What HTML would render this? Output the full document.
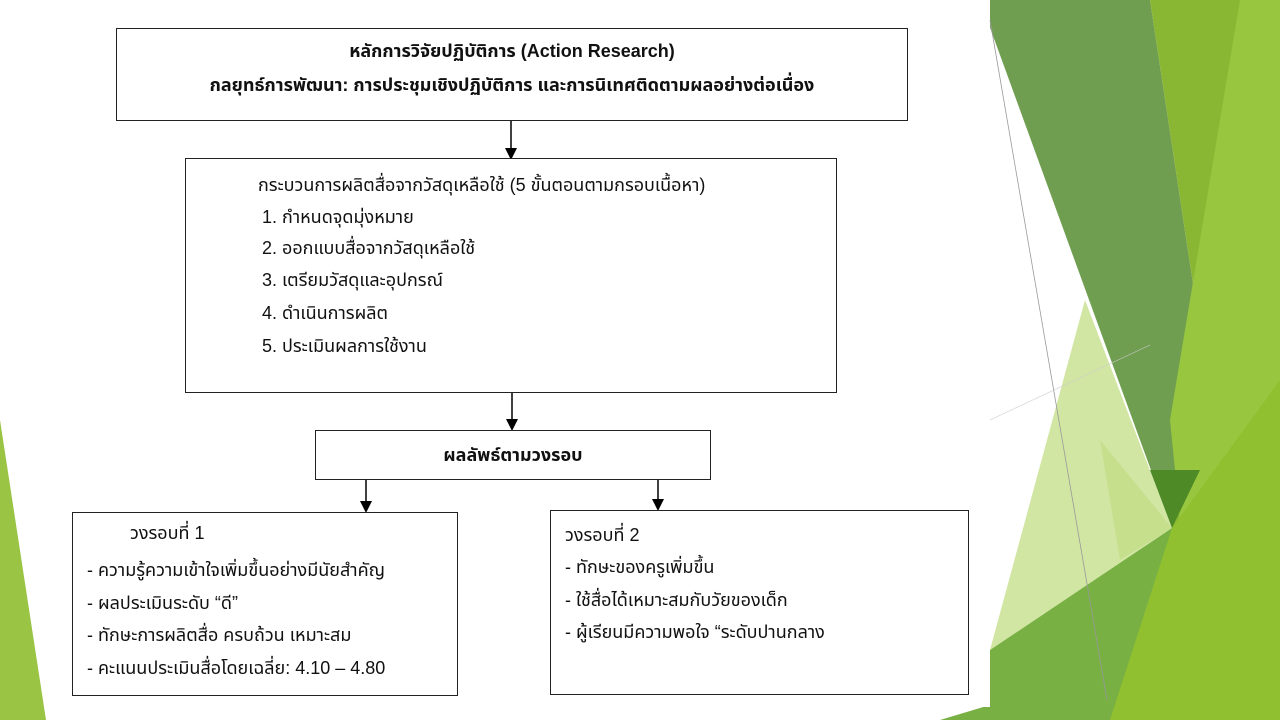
<!DOCTYPE html>
<html><head><meta charset="utf-8"><style>
body{margin:0;width:1280px;height:720px;overflow:hidden;background:#fff;position:relative;font-family:"Liberation Sans","Noto Sans Thai","Tahoma",sans-serif;color:#111}
svg.bg{position:absolute;left:0;top:0}
.box{position:absolute;border:1.5px solid #222;background:#fff;box-sizing:border-box}
.t{position:absolute;font-size:18px;white-space:nowrap;line-height:20px}
.b{font-weight:bold}
</style></head><body>
<svg class="bg" width="1280" height="720">
<rect x="0" y="0" width="1280" height="720" fill="#fff"/>
<polygon points="980,0 1150,0 1200,330 1172,528" fill="#6f9e51"/>
<polygon points="1150,0 1280,0 1280,720 1240,720 1172,528 1200,330" fill="#8ab733"/>
<polygon points="1240,0 1280,0 1280,720 1200,720 1170,420" fill="#99c63f"/>
<polygon points="1085,300 1172,528 990,650" fill="#d2e6a4"/>
<polygon points="1100,440 1172,528 1120,560" fill="#c5df8c"/>
<polygon points="990,650 1172,528 1230,460 1280,380 1280,720 940,720 990,705" fill="#78b044"/>
<polygon points="1172,528 1280,380 1280,720 1110,720" fill="#90c030"/>
<polygon points="1150,470 1172,528 1200,470" fill="#4e8b26"/>
<rect x="0" y="0" width="990" height="707" fill="#fff"/>
<polygon points="0,420 46,720 0,720" fill="#9ac444"/>
<line x1="990" y1="20" x2="1107" y2="700" stroke="#999" stroke-width="0.8"/>
<line x1="990" y1="420" x2="1150" y2="345" stroke="#ccc" stroke-width="0.6"/>
<g stroke="#000" stroke-width="1.5" fill="#000">
<line x1="511" y1="120" x2="511" y2="150"/><polygon points="505,148 517,148 511,160" stroke="none"/>
<line x1="512" y1="392" x2="512" y2="421"/><polygon points="506,419 518,419 512,431" stroke="none"/>
<line x1="366" y1="479" x2="366" y2="503"/><polygon points="360,501 372,501 366,513" stroke="none"/>
<line x1="658" y1="479" x2="658" y2="501"/><polygon points="652,499 664,499 658,511" stroke="none"/>
</g>
</svg>
<div class="box" style="left:116px;top:28px;width:792px;height:93px"></div>
<div class="t b" style="left:116px;width:792px;text-align:center;top:41px">หลักการวิจัยปฏิบัติการ (Action Research)</div>
<div class="t b" style="left:116px;width:792px;text-align:center;top:75px">กลยุทธ์การพัฒนา: การประชุมเชิงปฏิบัติการ และการนิเทศติดตามผลอย่างต่อเนื่อง</div>
<div class="box" style="left:185px;top:158px;width:652px;height:235px"></div>
<div class="t" style="left:258px;top:175px">กระบวนการผลิตสื่อจากวัสดุเหลือใช้ (5 ขั้นตอนตามกรอบเนื้อหา)</div>
<div class="t" style="left:262px;top:207px">1. กำหนดจุดมุ่งหมาย</div>
<div class="t" style="left:262px;top:238px">2. ออกแบบสื่อจากวัสดุเหลือใช้</div>
<div class="t" style="left:262px;top:270px">3. เตรียมวัสดุและอุปกรณ์</div>
<div class="t" style="left:262px;top:303px">4. ดำเนินการผลิต</div>
<div class="t" style="left:262px;top:336px">5. ประเมินผลการใช้งาน</div>
<div class="box" style="left:315px;top:430px;width:396px;height:50px"></div>
<div class="t b" style="left:315px;width:396px;text-align:center;top:445px">ผลลัพธ์ตามวงรอบ</div>
<div class="box" style="left:72px;top:512px;width:386px;height:184px"></div>
<div class="t" style="left:130px;top:523px">วงรอบที่ 1</div>
<div class="t" style="left:87px;top:560px">- ความรู้ความเข้าใจเพิ่มขึ้นอย่างมีนัยสำคัญ</div>
<div class="t" style="left:87px;top:593px">- ผลประเมินระดับ “ดี”</div>
<div class="t" style="left:87px;top:625px">- ทักษะการผลิตสื่อ ครบถ้วน เหมาะสม</div>
<div class="t" style="left:87px;top:658px">- คะแนนประเมินสื่อโดยเฉลี่ย: 4.10 – 4.80</div>
<div class="box" style="left:550px;top:510px;width:419px;height:185px"></div>
<div class="t" style="left:565px;top:525px">วงรอบที่ 2</div>
<div class="t" style="left:565px;top:557px">- ทักษะของครูเพิ่มขึ้น</div>
<div class="t" style="left:565px;top:590px">- ใช้สื่อได้เหมาะสมกับวัยของเด็ก</div>
<div class="t" style="left:565px;top:622px">- ผู้เรียนมีความพอใจ “ระดับปานกลาง</div>
</body></html>
